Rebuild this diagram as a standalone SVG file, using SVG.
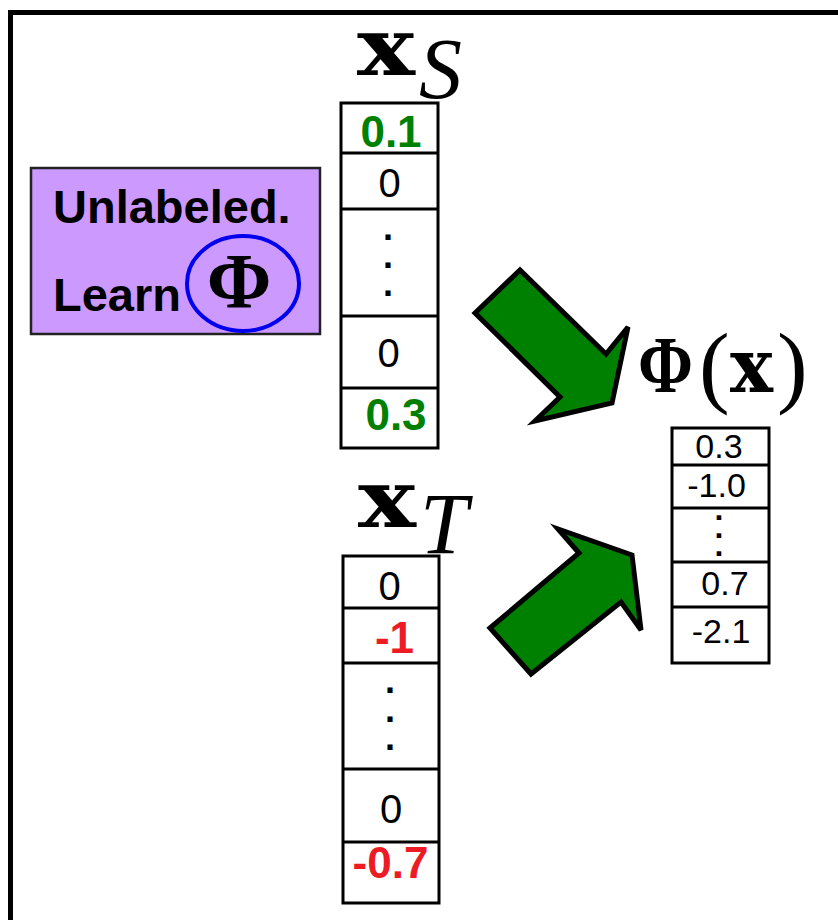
<svg xmlns="http://www.w3.org/2000/svg" width="838" height="920" viewBox="0 0 838 920">
  <style>
    .frame { fill: none; stroke: #000; stroke-width: 5; }
    .cell { fill: #fff; stroke: #000; stroke-width: 3; }
    .sep { stroke: #000; stroke-width: 3; }
    .val { font-family: "Liberation Sans", Arial, sans-serif; font-size: 40px; text-anchor: middle; fill: #000; }
    .valsm { font-family: "Liberation Sans", Arial, sans-serif; font-size: 34px; text-anchor: middle; fill: #000; }
    .dots { font-family: "Liberation Sans", Arial, sans-serif; font-weight: bold; text-anchor: middle; fill: #000; }
    .pos { font-weight: bold; fill: #008000; font-size: 44px; }
    .neg { font-weight: bold; fill: #ed1c24; font-size: 44px; }
    .math { font-family: "Liberation Serif", "Times New Roman", serif; fill: #000; }
    .vec { font-family: "DejaVu Serif", serif; font-weight: bold; fill: #000; }
    .bold { font-weight: bold; }
    .ital { font-style: italic; }
    .label { font-family: "Liberation Sans", Arial, sans-serif; font-weight: bold; font-size: 47px; fill: #000; }
    .arrow { fill: #008000; stroke: #000; stroke-width: 5; stroke-linejoin: miter; }
  </style>

  <rect width="838" height="920" fill="#fff"/>
  <rect class="frame" x="10.5" y="12.5" width="840" height="920"/>

  <!-- Unlabeled data box -->
  <g id="unlabeled">
    <rect x="31" y="168" width="289" height="166" fill="#cc99ff" stroke="#222" stroke-width="2.5"/>
    <text class="label" x="53" y="223">Unlabeled.</text>
    <text class="label" x="53" y="311">Learn</text>
    <ellipse cx="243" cy="283.5" rx="56" ry="47.5" fill="none" stroke="#0000ee" stroke-width="4"/>
    <text class="math bold" x="239" y="307" font-size="78" text-anchor="middle">Φ</text>
  </g>

  <!-- Source vector x_S -->
  <g id="xS">
    <text class="vec" x="357" y="75" font-size="80" textLength="58" lengthAdjust="spacingAndGlyphs">x</text>
    <text class="math ital" x="419" y="98" font-size="86">S</text>
    <rect class="cell" x="341" y="103" width="97" height="345"/>
    <line class="sep" x1="341" y1="153" x2="438" y2="153"/>
    <line class="sep" x1="341" y1="209" x2="438" y2="209"/>
    <line class="sep" x1="341" y1="316" x2="438" y2="316"/>
    <line class="sep" x1="341" y1="388" x2="438" y2="388"/>
    <text class="val pos" x="391" y="147">0.1</text>
    <text class="val" x="389.5" y="197">0</text>
    <text class="dots" font-size="36"><tspan x="388" y="240">.</tspan><tspan x="388" dy="28">.</tspan><tspan x="388" dy="28">.</tspan></text>
    <text class="val" x="388.5" y="367">0</text>
    <text class="val pos" x="396" y="430">0.3</text>
  </g>

  <!-- Target vector x_T -->
  <g id="xT">
    <text class="vec" x="358" y="527" font-size="80" textLength="58" lengthAdjust="spacingAndGlyphs">x</text>
    <text class="math ital" x="420" y="553" font-size="86">T</text>
    <rect class="cell" x="343" y="556" width="96" height="347"/>
    <line class="sep" x1="343" y1="608" x2="439" y2="608"/>
    <line class="sep" x1="343" y1="663" x2="439" y2="663"/>
    <line class="sep" x1="343" y1="769" x2="439" y2="769"/>
    <line class="sep" x1="343" y1="842" x2="439" y2="842"/>
    <text class="val" x="389.5" y="600">0</text>
    <text class="val neg" x="394.5" y="653">-1</text>
    <text class="dots" font-size="36"><tspan x="390" y="693">.</tspan><tspan x="390" dy="28.5">.</tspan><tspan x="390" dy="28.5">.</tspan></text>
    <text class="val" x="391" y="823">0</text>
    <text class="val neg" x="390.5" y="878">-0.7</text>
  </g>

  <!-- Learned representation Phi(x) -->
  <g id="phix">
    <text class="math bold" x="638" y="392" font-size="80" textLength="55" lengthAdjust="spacingAndGlyphs">Φ</text>
    <text class="math" x="699" y="396" font-size="92">(</text>
    <text class="vec" x="730" y="392" font-size="74" textLength="43" lengthAdjust="spacingAndGlyphs">x</text>
    <text class="math" x="777" y="396" font-size="92">)</text>
    <rect class="cell" x="672" y="428" width="97" height="235"/>
    <line class="sep" x1="672" y1="465" x2="769" y2="465"/>
    <line class="sep" x1="672" y1="508" x2="769" y2="508"/>
    <line class="sep" x1="672" y1="562" x2="769" y2="562"/>
    <line class="sep" x1="672" y1="607" x2="769" y2="607"/>
    <text class="valsm" x="719" y="458">0.3</text>
    <text class="valsm" x="716.5" y="497">-1.0</text>
    <text class="dots" font-size="32"><tspan x="719" y="520">.</tspan><tspan x="719" dy="18">.</tspan><tspan x="719" dy="18">.</tspan></text>
    <text class="valsm" x="725" y="595">0.7</text>
    <text class="valsm" x="721" y="643">-2.1</text>
  </g>

  <!-- Block arrows into Phi(x) -->
  <g id="connectors">
    <polygon class="arrow" points="475,313 520,270 606,354 628,327 612,403 535,421 560,397"/>
    <polygon class="arrow" points="490,628 579,553 558,529 632,555 641,630 621,602 531,674"/>
  </g>
</svg>
